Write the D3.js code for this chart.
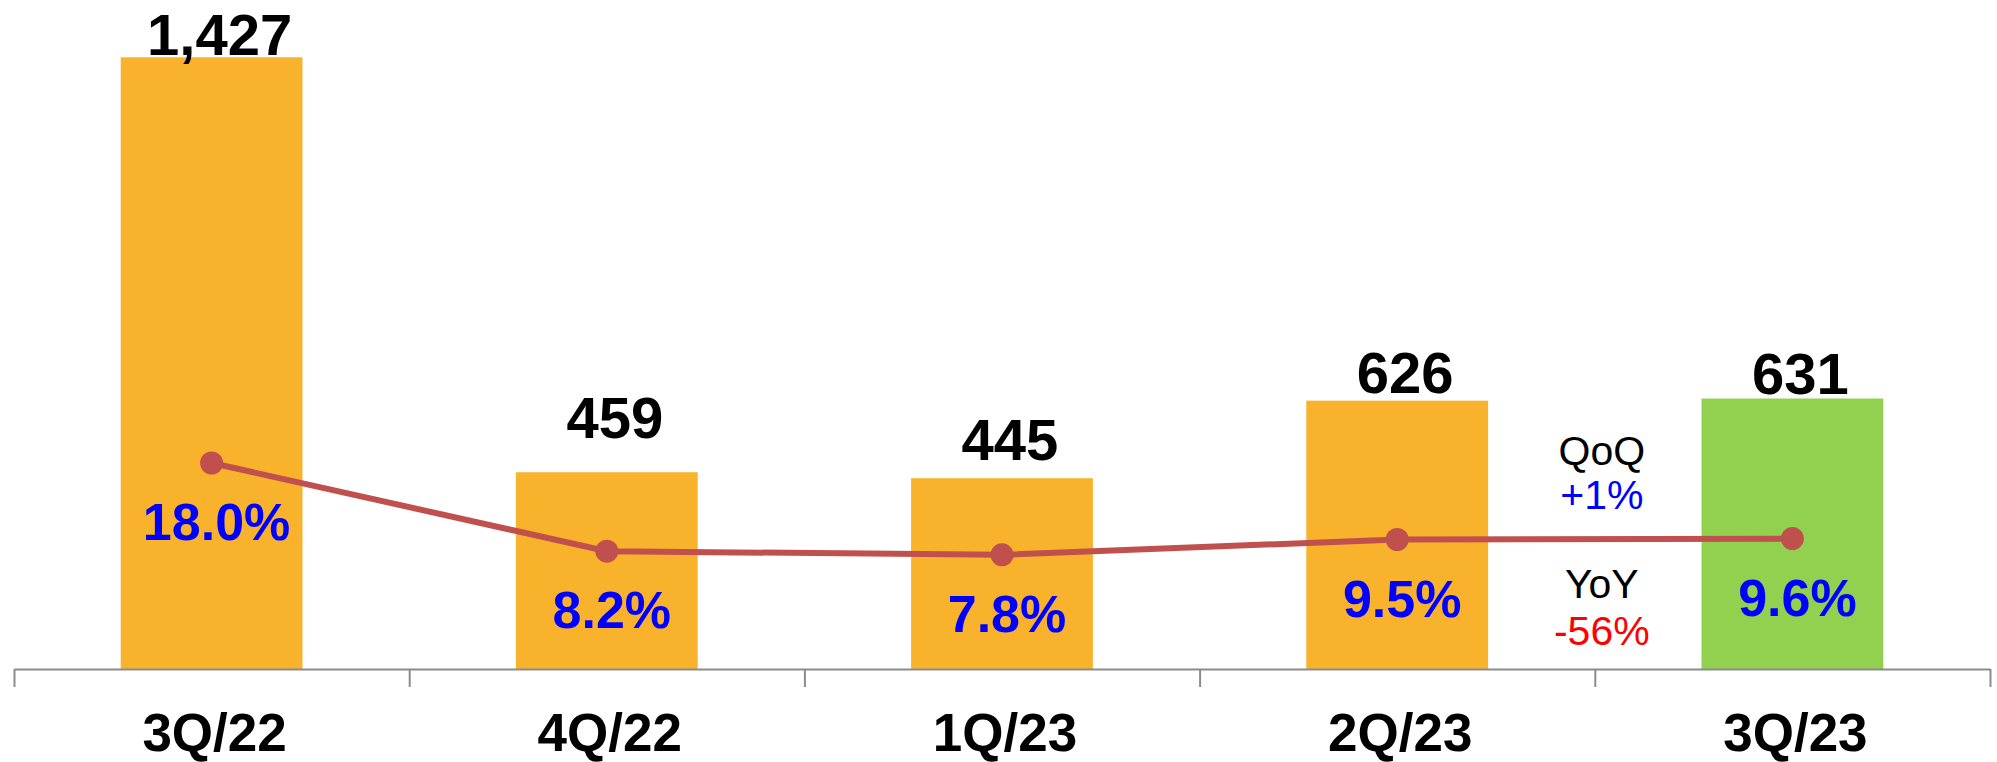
<!DOCTYPE html>
<html>
<head>
<meta charset="utf-8">
<script src="https://cdn.jsdelivr.net/npm/d3@7"></script>
<style>
  html, body { margin: 0; padding: 0; background: #fff; }
  svg text { font-family: "Liberation Sans", Arial, sans-serif; }
</style>
</head>
<body>
<div id="container"></div>
<script>
/* data */
const quarters = ["3Q/22", "4Q/22", "1Q/23", "2Q/23", "3Q/23"];
const volumes = [1427, 459, 445, 626, 631];
const shares = [18.0, 8.2, 7.8, 9.5, 9.6];
const qoqLabel = "+1%";
const yoyLabel = "-56%";

/* layout */
const width = 1997,
    height = 762,
    axisY = 669;
// the value labels sit at hand-placed heights above each bar
const labelLift = [2, 34, 18, 8, 5];

const svg = d3.select("#container")
    .append("svg")
    .attr("width", width)
    .attr("height", height);

const xScale = d3.scaleBand()
    .domain(quarters)
    .range([14, 1990])
    .paddingInner(0.54)
    .paddingOuter(0.27);

const yScale = d3.scaleLinear()
    .domain([0, 1500])
    .range([axisY, 26]);

const pctScale = d3.scaleLinear()
    .domain([0, 20])
    .range([625, 445]);

const cx = d => xScale(d) + xScale.bandwidth() / 2;

// bars
svg.selectAll("rect.bar")
    .data(quarters)
    .join("rect")
    .attr("class", "bar")
    .attr("x", d => xScale(d))
    .attr("y", (d, i) => yScale(volumes[i]))
    .attr("width", xScale.bandwidth())
    .attr("height", (d, i) => axisY - yScale(volumes[i]))
    .attr("fill", (d, i) => i === quarters.length - 1 ? "#92D050" : "#F9B22B");

// axis with ticks at the category boundaries
const edgeScale = d3.scaleLinear()
    .domain([0, quarters.length])
    .range(xScale.range());
const xAxis = d3.axisBottom(edgeScale)
    .tickValues(d3.range(quarters.length + 1))
    .tickSize(18)
    .tickSizeOuter(0)
    .tickFormat("");
const axisG = svg.append("g")
    .attr("class", "x-axis")
    .attr("transform", `translate(0,${axisY})`)
    .call(xAxis);
axisG.selectAll("path, line")
    .attr("stroke", "#8C8C8C")
    .attr("stroke-width", 2);

// category labels
svg.selectAll("text.cat")
    .data(quarters)
    .join("text")
    .attr("class", "cat")
    .attr("x", d => cx(d) + 3)
    .attr("y", 751)
    .attr("text-anchor", "middle")
    .attr("font-weight", "bold")
    .attr("font-size", 53)
    .attr("fill", "#000")
    .text(d => d);

// value labels
svg.selectAll("text.val")
    .data(quarters)
    .join("text")
    .attr("class", "val")
    .attr("x", d => cx(d) + 8)
    .attr("y", (d, i) => yScale(volumes[i]) - labelLift[i])
    .attr("text-anchor", "middle")
    .attr("font-weight", "bold")
    .attr("font-size", 58)
    .attr("fill", "#000")
    .text((d, i) => d3.format(",")(volumes[i]));

// share line
const lineGen = d3.line()
    .x(d => cx(d))
    .y((d, i) => pctScale(shares[i]));
svg.append("path")
    .datum(quarters)
    .attr("d", lineGen)
    .attr("fill", "none")
    .attr("stroke", "#C0504D")
    .attr("stroke-width", 6);

svg.selectAll("circle.pt")
    .data(quarters)
    .join("circle")
    .attr("class", "pt")
    .attr("cx", d => cx(d))
    .attr("cy", (d, i) => pctScale(shares[i]))
    .attr("r", 11.5)
    .attr("fill", "#C0504D");

svg.selectAll("text.pct")
    .data(quarters)
    .join("text")
    .attr("class", "pct")
    .attr("x", d => cx(d) + 5)
    .attr("y", (d, i) => pctScale(shares[i]) + 77)
    .attr("text-anchor", "middle")
    .attr("font-weight", "bold")
    .attr("font-size", 52)
    .attr("fill", "#0000FF")
    .text((d, i) => d3.format(".1f")(shares[i]) + "%");

// QoQ / YoY note between the last two bars
const noteX = edgeScale(quarters.length - 1) + 7;
const notes = [
    { t: "QoQ", y: 465, c: "#000" },
    { t: qoqLabel, y: 509, c: "#0000FF" },
    { t: "YoY", y: 598, c: "#000" },
    { t: yoyLabel, y: 645, c: "#FF0000" }
];
svg.selectAll("text.note")
    .data(notes)
    .join("text")
    .attr("class", "note")
    .attr("x", noteX)
    .attr("y", d => d.y)
    .attr("text-anchor", "middle")
    .attr("font-size", 41)
    .attr("fill", d => d.c)
    .text(d => d.t);
</script>
</body>
</html>
